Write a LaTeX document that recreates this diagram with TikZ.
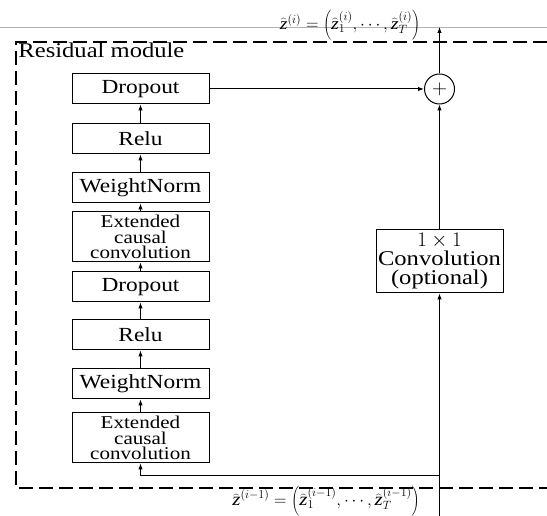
\documentclass[tikz,border=0pt]{standalone}
\usepackage{fontspec}
\setmainfont{Liberation Serif}[FakeStretch=1.17]
\usetikzlibrary{arrows.meta}
\newcommand{\zhat}{\widehat{\textit{z}}}

\begin{document}
\begin{tikzpicture}[x=1pt,y=1pt,line width=1pt,
        >={Latex[length=6pt,width=4.5pt]},
        layer/.style={draw,minimum width=137pt,minimum height=30pt,inner sep=0pt,
            font=\fontsize{20}{22}\selectfont},
        extlayer/.style={layer,minimum height=50pt,align=center,
            font=\fontsize{18}{15.5}\selectfont},
        plus/.style={draw,circle,minimum size=30pt,inner sep=0pt,font=\fontsize{20}{22}\selectfont},
        eqn/.style={inner sep=0pt,font=\fontsize{17}{20}\selectfont}]
        \useasboundingbox (0,0) rectangle (547,516);
        %\draw[help lines,step=50] (0,0) grid (547,516);
        \draw[gray!60,line width=0.8pt] (0,489) -- (547,489);
        \draw[dash pattern=on 14pt off 6pt,line width=1.2pt] (547,474) -- (16,474) -- (16,28) -- (547,28);
        \node[anchor=base west,font=\fontsize{21}{24}\selectfont,inner sep=0pt] (title) at (18,458) {Residual module};

        % left branch
        \node[extlayer] (ext1) at (140.5,78) {Extended\\causal\\convolution};
        \node[layer] (wn1) at (140.5,132) {WeightNorm};
        \node[layer] (relu1) at (140.5,181) {Relu};
        \node[layer] (drop1) at (140.5,229) {Dropout};
        \node[extlayer] (ext2) at (140.5,279) {Extended\\causal\\convolution};
        \node[layer] (wn2) at (140.5,328) {WeightNorm};
        \node[layer] (relu2) at (140.5,377) {Relu};
        \node[layer] (drop2) at (140.5,427) {Dropout};
        \foreach \a/\b in {ext1/wn1,wn1/relu1,relu1/drop1,drop1/ext2,ext2/wn2,wn2/relu2,relu2/drop2}
            \draw[->] (\a) -- (\b);

        % right branch
        \node[draw,minimum width=127pt,minimum height=63pt,inner sep=0pt,align=center,
            font=\fontsize{21}{19}\selectfont] (conv) at (439.5,254.5) {$1\times 1$\\Convolution\\(optional)};
        \node[plus] (sum) at (439.5,427) {$+$};

        % inputs and outputs
        \coordinate (in) at (439.5,0);
        \coordinate (split) at (439.5,40);
        \coordinate (out) at (439.5,489);
        \draw[->] (in) -- (conv);
        \draw[->] (split) -| (ext1);
        \draw[->] (conv) -- (sum);
        \draw[->] (drop2) -- (sum);
        \draw[->] (sum) -- (out);
        \node[eqn] (zout) at (350,491)
            {$\zhat^{(i)}=\left(\zhat_1^{(i)},\cdots,\zhat_T^{(i)}\right)$};
        \node[eqn,font=\fontsize{18}{20}\selectfont] (zin) at (326,15)
            {$\zhat^{(i-1)}=\left(\zhat_1^{(i-1)},\cdots,\zhat_T^{(i-1)}\right)$};
\end{tikzpicture}
\end{document}
